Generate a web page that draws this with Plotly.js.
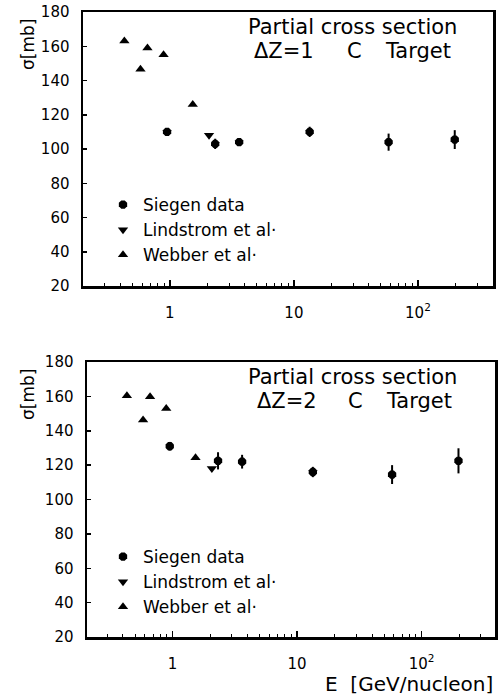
<!DOCTYPE html>
<html>
<head>
<meta charset="utf-8">
<script src="https://cdn.plot.ly/plotly-3.0.1.min.js"></script>
<style>html,body{margin:0;padding:0;background:#fff;}#chart{width:498px;height:696px;}</style>
</head>
<body>
<div id="chart"></div>
<script>
// Energies (GeV/nucleon)
var siegenE = [0.95, 2.32, 3.62, 13.4, 58, 198];
var lindstromE = [2.07];
var webberE = [0.43, 0.58, 0.66, 0.89, 1.53];

// dZ = 1, C target (mb)
var siegen1 = [110, 103, 104, 110, 104, 105.5];
var siegen1Err = [2, 3, 2, 3, 5, 5.5];
var lindstrom1 = [108];
var webber1 = [163, 146.5, 159, 155, 126];

// dZ = 2, C target (mb)
var siegen2 = [131, 122.5, 122, 116, 114.5, 122.5];
var siegen2Err = [2.5, 5, 4, 3, 5.5, 7.3];
var lindstrom2 = [118];
var webber2 = [160.3, 146.3, 159.8, 153, 124.3];

var xTickVals = [1, 10, 100];
var xTickText = ["1", "10", "10<sup>2</sup>"];
var yTickVals = [20, 40, 60, 80, 100, 120, 140, 160, 180];

var legendNames = ["Siegen data", "Lindstrom et al\u00b7", "Webber et al\u00b7"];

var FONT = "DejaVu Sans, sans-serif";
var W = 498, H = 696, ML = 83, MR = 3, MT = 12, MB = 59;
var PW = W - ML - MR, PH = H - MT - MB;
function px(x) { return (x - ML) / PW; }
function py(y) { return (H - MB - y) / PH; }

function traces(xa, ya, leg, sg, sgErr, ld, wb) {
  var mk = {color: "black", size: 9, line: {width: 0}};
  return [
    {type: "scatter", mode: "markers", x: siegenE, y: sg, xaxis: xa, yaxis: ya, legend: leg,
     name: legendNames[0], marker: Object.assign({symbol: "octagon"}, mk),
     error_y: {type: "data", array: sgErr, visible: true, color: "black", thickness: 2, width: 0}},
    {type: "scatter", mode: "markers", x: lindstromE, y: ld, xaxis: xa, yaxis: ya, legend: leg,
     name: legendNames[1], marker: Object.assign({symbol: "triangle-down"}, mk)},
    {type: "scatter", mode: "markers", x: webberE, y: wb, xaxis: xa, yaxis: ya, legend: leg,
     name: legendNames[2], marker: Object.assign({symbol: "triangle-up"}, mk)}
  ];
}

var data = [].concat(
  traces("x", "y", "legend", siegen1, siegen1Err, lindstrom1, webber1),
  traces("x2", "y2", "legend2", siegen2, siegen2Err, lindstrom2, webber2)
);

function xaxis(domain, range, anchor) {
  return {
    type: "log", domain: domain, range: range, anchor: anchor,
    tickmode: "array", tickvals: xTickVals, ticktext: xTickText,
    ticks: "inside", ticklen: 6, tickwidth: 1.5, tickcolor: "black",
    minor: {ticks: "inside", ticklen: 3, tickwidth: 1, tickcolor: "black", dtick: "D1"},
    showline: true, linewidth: 2.5, linecolor: "black", mirror: true,
    showgrid: false, zeroline: false, ticklabelstandoff: 11,
    tickfont: {family: FONT, size: 15, color: "black"}
  };
}
function yaxis(domain, anchor) {
  return {
    domain: domain, range: [20, 180], anchor: anchor,
    tickmode: "array", tickvals: yTickVals,
    ticks: "inside", ticklen: 4, tickwidth: 1.5, tickcolor: "black",
    showline: true, linewidth: 2.5, linecolor: "black", mirror: true,
    showgrid: false, zeroline: false, ticklabelstandoff: 8,
    tickfont: {family: FONT, size: 15, color: "black"}
  };
}

function legend(topPx) {
  return {x: px(103), y: py(topPx), xanchor: "left", yanchor: "top",
    bgcolor: "rgba(0,0,0,0)", borderwidth: 0, itemwidth: 30,
    font: {family: FONT, size: 17, color: "black"}, tracegroupgap: 0};
}

function ann(text, x, y, size, opts) {
  return Object.assign({text: text, x: px(x), y: py(y), xref: "paper", yref: "paper",
    showarrow: false, font: {family: FONT, size: size, color: "black"},
    xanchor: "center", yanchor: "middle"}, opts || {});
}

var annotations = [
  ann("Partial cross section", 352, 27, 21),
  ann("\u0394Z=1", 284, 51, 21),
  ann("C", 354, 51, 21),
  ann("Target", 418, 51, 21),
  ann("\u03c3[mb]", 28, 45, 17, {textangle: -90}),
  ann("Partial cross section", 352, 377, 21),
  ann("\u0394Z=2", 287, 401, 21),
  ann("C", 355, 401, 21),
  ann("Target", 419, 401, 21),
  ann("\u03c3[mb]", 28, 395, 17, {textangle: -90}),
  ann("E  [GeV/nucleon]", 495, 684, 20, {xanchor: "right"})
];

var layout = {
  width: W, height: H,
  margin: {l: ML, r: MR, t: MT, b: MB},
  paper_bgcolor: "white", plot_bgcolor: "white",
  showlegend: true,
  xaxis: xaxis([0, px(493)], [-0.70, 2.605], "y"),
  yaxis: yaxis([py(286), 1], "x"),
  xaxis2: xaxis([px(87), 1], [-0.687, 2.59], "y2"),
  yaxis2: yaxis([0, py(362)], "x2"),
  legend: legend(187),
  legend2: legend(539),
  annotations: annotations
};

Plotly.newPlot("chart", data, layout, {displayModeBar: false, staticPlot: true});
</script>
</body>
</html>
